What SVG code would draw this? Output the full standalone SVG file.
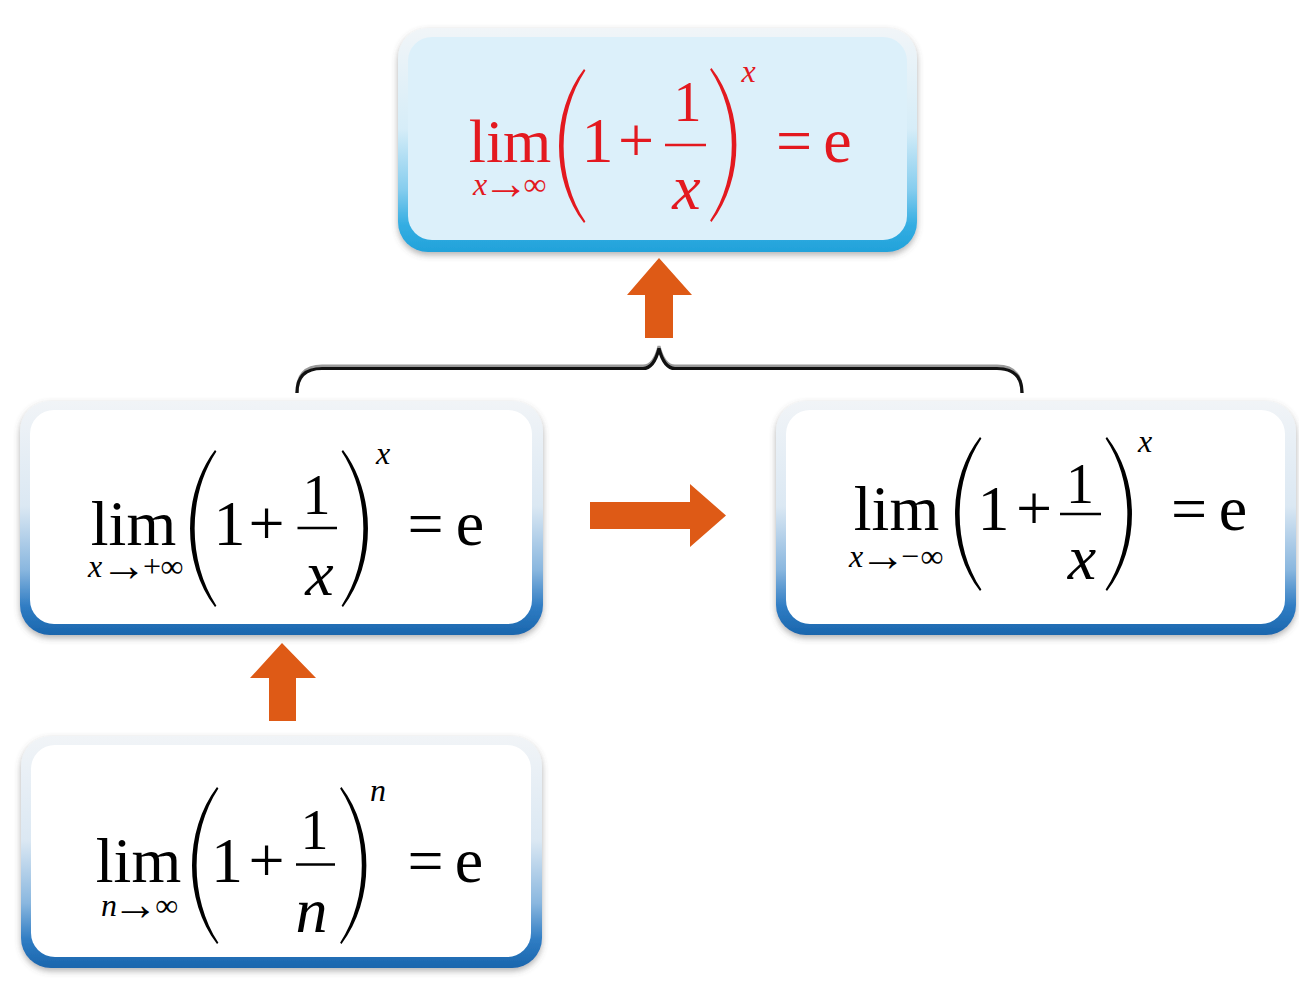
<svg xmlns="http://www.w3.org/2000/svg" width="1299" height="987" viewBox="0 0 1299 987">
<defs>
<linearGradient id="gBlue" x1="0" y1="0" x2="0" y2="1">
<stop offset="0" stop-color="#f1f4f7"/>
<stop offset="0.45" stop-color="#dbe8f3"/>
<stop offset="0.72" stop-color="#8ab7df"/>
<stop offset="0.88" stop-color="#2f7cc3"/>
<stop offset="1" stop-color="#1a66ad"/>
</linearGradient>
<linearGradient id="gCyan" x1="0" y1="0" x2="0" y2="1">
<stop offset="0" stop-color="#f1f5f8"/>
<stop offset="0.45" stop-color="#d6edf8"/>
<stop offset="0.72" stop-color="#86cdee"/>
<stop offset="0.88" stop-color="#33ade2"/>
<stop offset="1" stop-color="#22a2da"/>
</linearGradient>
<filter id="sh" x="-5%" y="-5%" width="110%" height="115%">
<feDropShadow dx="0" dy="3" stdDeviation="3" flood-color="#555555" flood-opacity="0.45"/>
</filter>
<path id="lp" d="M25 0 C-8.3 43 -8.3 111 25 154 L26.4 152.6 C-2.6 109 -2.6 45 26.4 1.4 Z"/>
</defs>
<style>
.m{font-family:"Liberation Serif","Times New Roman",serif;text-anchor:middle;fill:#000}
.r{fill:#e3191f}
.i{font-style:italic}
.f64{font-size:64px}
.f62{font-size:62px}
.f56{font-size:56px}
.f32{font-size:32px}
.ar{font-size:46px}
.bar{stroke:#000;stroke-width:2.5}
.rbar{stroke:#e3191f;stroke-width:2.5}
.arrow{fill:#de5a16}
.inner{fill:#ffffff}
.pk{fill:#000}
.pr{fill:#e3191f}
</style>
<rect width="1299" height="987" fill="#ffffff"/>

<g id="connectors">
<polygon class="arrow" points="659,258 692,295 673,295 673,338 645,338 645,295 627,295"/>
<polygon class="arrow" points="590,502 690,502 690,484 726,515.5 690,547 690,529 590,529"/>
<polygon class="arrow" points="282,643 316,678 296,678 296,721 269,721 269,678 250,678"/>
<path d="M297 393 Q297 366 322 366 L643 366 Q654 366 659 346 Q664 366 675 366 L997 366 Q1022 366 1022 393" fill="none" stroke="#9a9a9a" stroke-width="3"/>
<path d="M297 393 Q297 368.5 322 368.5 L643 368.5 Q654 368.5 659 348.5 Q664 368.5 675 368.5 L997 368.5 Q1022 368.5 1022 393" fill="none" stroke="#111111" stroke-width="3.2"/>
</g>

<g id="node-top">
<rect x="398" y="28" width="519" height="224" rx="30" fill="url(#gCyan)" filter="url(#sh)"/>
<rect x="408" y="37" width="499" height="203" rx="24" fill="#dcf0fa"/>
<text class="m r f62" x="510" y="162">lim</text>
<text class="m r f32"><tspan class="i" x="480" y="195">x</tspan><tspan class="ar" x="506" y="199">→</tspan><tspan x="535" y="195">∞</tspan></text>
<use href="#lp" class="pr" transform="translate(559,69)"/>
<text class="m r f64" x="597.5" y="162">1</text>
<text class="m r f64" x="636" y="162">+</text>
<text class="m r f56" x="687.5" y="121">1</text>
<line class="rbar" x1="665" y1="145" x2="706" y2="145"/>
<text class="m r f64 i" x="686.5" y="209">x</text>
<use href="#lp" class="pr" transform="translate(736.5,68) scale(-1,1)"/>
<text class="m r f32 i" x="748.5" y="82">x</text>
<text class="m r f64" x="794" y="162">=</text>
<text class="m r f64" x="837.5" y="162">e</text>
</g>

<g id="node-left">
<rect x="20" y="401" width="523" height="234" rx="30" fill="url(#gBlue)" filter="url(#sh)"/>
<rect class="inner" x="30" y="410" width="502" height="214" rx="24"/>
<text class="m f64" x="133.5" y="545">lim</text>
<text class="m f32"><tspan class="i" x="95" y="577">x</tspan><tspan class="ar" x="124" y="581">→</tspan><tspan x="152" y="577">+</tspan><tspan x="172" y="577">∞</tspan></text>
<use href="#lp" class="pk" transform="translate(190,450) scale(1,1.02)"/>
<text class="m f64" x="229.5" y="545">1</text>
<text class="m f64" x="266.5" y="545">+</text>
<text class="m f56" x="316.5" y="514">1</text>
<line class="bar" x1="297.5" y1="528" x2="337" y2="528"/>
<text class="m f64 i" x="319.5" y="595">x</text>
<use href="#lp" class="pk" transform="translate(368,450) scale(-1,1.02)"/>
<text class="m f32 i" x="383" y="464">x</text>
<text class="m f64" x="425.5" y="545">=</text>
<text class="m f64" x="470" y="545">e</text>
</g>

<g id="node-right">
<rect x="776" y="401" width="520" height="234" rx="30" fill="url(#gBlue)" filter="url(#sh)"/>
<rect class="inner" x="786" y="410" width="499" height="214" rx="24"/>
<text class="m f64" x="896.5" y="530">lim</text>
<text class="m f32"><tspan class="i" x="856" y="567">x</tspan><tspan class="ar" x="883" y="571">→</tspan><tspan x="910" y="567">−</tspan><tspan x="932" y="567">∞</tspan></text>
<use href="#lp" class="pk" transform="translate(955,437)"/>
<text class="m f64" x="993.5" y="530">1</text>
<text class="m f64" x="1034" y="530">+</text>
<text class="m f56" x="1080" y="503">1</text>
<line class="bar" x1="1060" y1="514" x2="1101" y2="514"/>
<text class="m f64 i" x="1082" y="579">x</text>
<use href="#lp" class="pk" transform="translate(1132,437) scale(-1,1)"/>
<text class="m f32 i" x="1145" y="452">x</text>
<text class="m f64" x="1189" y="530">=</text>
<text class="m f64" x="1233" y="530">e</text>
</g>

<g id="node-bottom">
<rect x="21" y="736" width="521" height="232" rx="30" fill="url(#gBlue)" filter="url(#sh)"/>
<rect class="inner" x="31" y="745" width="500" height="212" rx="24"/>
<text class="m f64" x="138.5" y="882">lim</text>
<text class="m f32"><tspan class="i" x="109" y="916">n</tspan><tspan class="ar" x="135.6" y="920">→</tspan><tspan x="166.6" y="916">∞</tspan></text>
<use href="#lp" class="pk" transform="translate(192,787) scale(1,1.02)"/>
<text class="m f64" x="227" y="882">1</text>
<text class="m f64" x="266.5" y="882">+</text>
<text class="m f56" x="314.5" y="849">1</text>
<line class="bar" x1="296" y1="864.5" x2="335" y2="864.5"/>
<text class="m f64 i" x="311.5" y="932">n</text>
<use href="#lp" class="pk" transform="translate(366.5,787) scale(-1,1.02)"/>
<text class="m f32 i" x="378" y="801">n</text>
<text class="m f64" x="425.5" y="882">=</text>
<text class="m f64" x="469" y="882">e</text>
</g>
</svg>
